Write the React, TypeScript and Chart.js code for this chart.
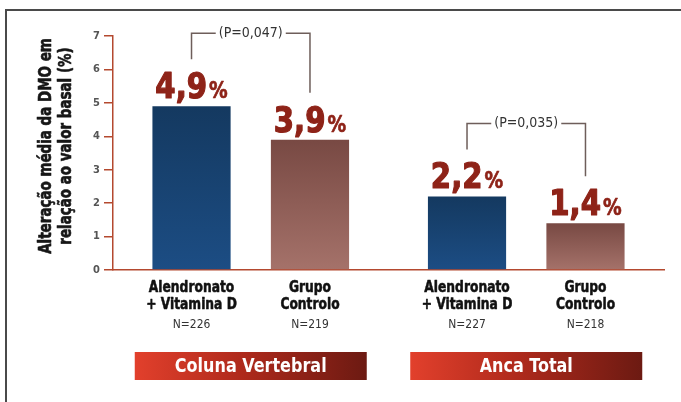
import React, { useEffect, useRef } from "react";
import { Chart, registerables } from "chart.js";

Chart.register(...registerables);

const groups = ["Coluna Vertebral", "Anca Total"];
const treatmentLabel = ["Alendronato", "+ Vitamina D"];
const controlLabel = ["Grupo", "Controlo"];
const alendronatoValues = [4.9, 2.2];
const controloValues = [3.9, 1.4];
const alendronatoN = ["N=226", "N=227"];
const controloN = ["N=219", "N=218"];
const pValues = ["(P=0,047)", "(P=0,035)"];
const yTitle = ["Alteração média da DMO em", "relação ao valor basal (%)"];
const yMin = 0;
const yMax = 7;

const FONT = "'Liberation Sans Narrow', 'DejaVu Sans Condensed', 'Roboto', sans-serif";
const AXIS = "#b4492f";

function cText(ctx: any, text: string, x: number, y: number, sx: number, rot = 0, stroke = 0) {
  ctx.save();
  ctx.translate(x, y);
  if (rot) ctx.rotate(rot);
  ctx.scale(sx, 1);
  ctx.fillText(text, 0, 0);
  if (stroke) {
    ctx.strokeStyle = ctx.fillStyle;
    ctx.lineWidth = stroke;
    ctx.lineJoin = "round";
    ctx.strokeText(text, 0, 0);
  }
  ctx.restore();
}

const overlay = {
  id: "overlay",
  beforeDraw(chart: any) {
    const { ctx, width, height } = chart;
    ctx.save();
    ctx.fillStyle = "#ffffff";
    ctx.fillRect(0, 0, width, height);
    ctx.strokeStyle = "#4a4a4a";
    ctx.lineWidth = 2;
    ctx.beginPath();
    ctx.moveTo(6, height);
    ctx.lineTo(6, 10);
    ctx.lineTo(width, 10);
    ctx.stroke();
    ctx.restore();
  },
  afterDatasetsDraw(chart: any) {
    const { ctx, chartArea } = chart;
    const bottom = chartArea.bottom;
    const m0 = chart.getDatasetMeta(0);
    const m1 = chart.getDatasetMeta(1);
    ctx.save();
    // y-axis title
    ctx.fillStyle = "#161616";
    ctx.font = `bold 17px ${FONT}`;
    ctx.textAlign = "center";
    ctx.textBaseline = "middle";
    const ty = 146;
    cText(ctx, yTitle[0], 47, ty, 0.88, -Math.PI / 2, 0.6);
    cText(ctx, yTitle[1], 67, ty, 0.88, -Math.PI / 2, 0.6);

    const labelTops: number[][] = [[], []];
    [m0, m1].forEach((meta: any, di: number) => {
      const values = di === 0 ? alendronatoValues : controloValues;
      const names = di === 0 ? treatmentLabel : controlLabel;
      const ns = di === 0 ? alendronatoN : controloN;
      meta.data.forEach((bar: any, j: number) => {
        const num = values[j].toFixed(1).replace(".", ",");
        const sx = 0.9;
        ctx.font = `bold 36px ${FONT}`;
        const wNum = ctx.measureText(num).width * sx;
        ctx.font = `bold 23px ${FONT}`;
        const wPct = ctx.measureText("%").width * sx;
        const total = wNum + 2 + wPct;
        const x0 = bar.x - total / 2;
        const base = bar.y - 8;
        ctx.fillStyle = "#8e2318";
        ctx.textAlign = "left";
        ctx.textBaseline = "alphabetic";
        ctx.font = `bold 36px ${FONT}`;
        cText(ctx, num, x0, base, sx, 0, 1.2);
        ctx.font = `bold 23px ${FONT}`;
        cText(ctx, "%", x0 + wNum + 2, base, sx, 0, 0.6);
        labelTops[j][di] = base - 26;

        ctx.textAlign = "center";
        ctx.textBaseline = "middle";
        ctx.fillStyle = "#111";
        ctx.font = `bold 15px ${FONT}`;
        cText(ctx, names[0], bar.x, bottom + 18, 0.91, 0, 0.5);
        cText(ctx, names[1], bar.x, bottom + 35, 0.91, 0, 0.5);
        ctx.fillStyle = "#333";
        ctx.font = `13px ${FONT}`;
        cText(ctx, ns[j], bar.x, bottom + 55, 0.92);
      });
    });
    groups.forEach((_g, j) => {
      const xa = m0.data[j].x;
      const xb = m1.data[j].x;
      const ya = labelTops[j][0] - 13;
      const yb = labelTops[j][1] - 13;
      const top = Math.min(ya, yb) - 26;
      ctx.font = `14px ${FONT}`;
      const tw = ctx.measureText(pValues[j]).width;
      const cx = (xa + xb) / 2;
      ctx.strokeStyle = "#6e5e5a";
      ctx.lineWidth = 1.5;
      ctx.beginPath();
      ctx.moveTo(xa, ya);
      ctx.lineTo(xa, top);
      ctx.lineTo(cx - tw / 2 - 3, top);
      ctx.moveTo(cx + tw / 2 + 3, top);
      ctx.lineTo(xb, top);
      ctx.lineTo(xb, yb);
      ctx.stroke();
      ctx.fillStyle = "#333";
      ctx.textAlign = "center";
      ctx.textBaseline = "middle";
      ctx.fillText(pValues[j], cx, top);
    });
    const xs = chart.scales.x;
    groups.forEach((g, j) => {
      const c = xs.getPixelForValue(j);
      const w = 232;
      const x0 = c - w / 2;
      const grad = ctx.createLinearGradient(x0, 0, x0 + w, 0);
      grad.addColorStop(0, "#e2402c");
      grad.addColorStop(0.45, "#b02a1c");
      grad.addColorStop(1, "#6c1a12");
      ctx.fillStyle = grad;
      ctx.fillRect(x0, bottom + 82, w, 28);
      ctx.fillStyle = "#ffffff";
      ctx.font = `bold 20px ${FONT}`;
      ctx.textAlign = "center";
      ctx.textBaseline = "middle";
      cText(ctx, g, c, bottom + 97, 0.89);
    });
    ctx.restore();
  },
};

function barGradient(ctx: any, top: string, bottomCol: string) {
  const chart = ctx.chart;
  const ys = chart.scales?.y;
  if (!ys || ctx.raw == null) return top;
  const y1 = ys.getPixelForValue(ctx.raw);
  const y0 = ys.getPixelForValue(0);
  if (!isFinite(y1) || !isFinite(y0) || y1 === y0) return top;
  const g = chart.ctx.createLinearGradient(0, y1, 0, y0);
  g.addColorStop(0, top);
  g.addColorStop(1, bottomCol);
  return g;
}

export default function App() {
  const ref = useRef<HTMLCanvasElement>(null);
  useEffect(() => {
    if (!ref.current) return;
    const chart = new Chart(ref.current, {
      type: "bar",
      data: {
        labels: groups,
        datasets: [
          {
            label: "Alendronato + Vitamina D",
            data: alendronatoValues,
            backgroundColor: (c: any) => barGradient(c, "#143960", "#1c4d84"),
            categoryPercentage: 0.86,
            barPercentage: 0.66,
          },
          {
            label: "Grupo Controlo",
            data: controloValues,
            backgroundColor: (c: any) => barGradient(c, "#784943", "#a5726a"),
            categoryPercentage: 0.86,
            barPercentage: 0.66,
          },
        ],
      },
      options: {
        responsive: false,
        animation: false,
        layout: { padding: { left: 30, right: 17, top: 36, bottom: 132 } },
        plugins: { legend: { display: false }, tooltip: { enabled: false } },
        scales: {
          x: {
            type: "category",
            ticks: { display: false },
            grid: { display: false },
            border: { display: true, color: AXIS, width: 1.5 },
            afterFit: (s: any) => {
              s.height = 0;
            },
          },
          y: {
            min: yMin,
            max: yMax,
            ticks: {
              stepSize: 1,
              color: "#555",
              font: { family: FONT, size: 11, weight: "bold" },
              padding: 4,
            },
            grid: { drawOnChartArea: false, drawTicks: true, tickLength: 9, color: AXIS, lineWidth: 1.5 },
            border: { display: true, color: AXIS, width: 1.5 },
            title: { display: false },
            afterFit: (s: any) => {
              s.width = 83;
            },
          },
        },
      },
      plugins: [overlay],
    });
    return () => chart.destroy();
  }, []);
  return (
    <div style={{ position: "absolute", left: 0, top: 0, width: 681, height: 402 }}>
      <canvas ref={ref} width={681} height={402} style={{ display: "block" }} />
    </div>
  );
}
